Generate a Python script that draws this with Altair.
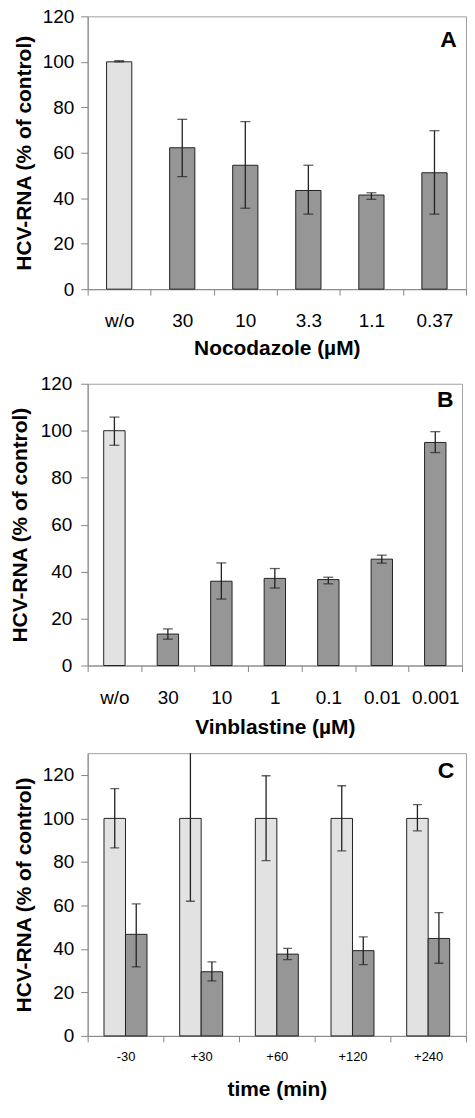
import altair as alt
import pandas as pd

FONT = "Liberation Sans"

# ---- Panel A: Nocodazole ----
a_cats = ["w/o", "30", "10", "3.3", "1.1", "0.37"]
a_mean = [100.0, 62.2, 54.5, 43.4, 41.4, 51.2]
a_lo = [100.0, 49.5, 35.6, 33.0, 39.5, 33.0]
a_hi = [100.5, 74.7, 73.7, 54.5, 42.4, 69.7]
a_group = ["control", "treated", "treated", "treated", "treated", "treated"]

# ---- Panel B: Vinblastine ----
b_cats = ["w/o", "30", "10", "1", "0.1", "0.01", "0.001"]
b_mean = [100.0, 13.4, 35.9, 37.1, 36.6, 45.3, 95.0]
b_lo = [93.8, 11.2, 28.3, 33.0, 34.8, 43.6, 90.7]
b_hi = [105.8, 15.6, 43.7, 41.3, 37.6, 47.0, 99.6]
b_group = ["control", "treated", "treated", "treated", "treated", "treated", "treated"]

# ---- Panel C: time course ----
c_times = ["-30", "+30", "+60", "+120", "+240"]
c_ctrl = [100.0, 100.0, 100.0, 100.0, 100.0]
c_ctrl_lo = [86.4, 61.9, 80.6, 85.1, 94.3]
c_ctrl_hi = [113.7, 138.0, 119.6, 115.0, 106.3]
c_trt = [46.7, 29.5, 37.6, 39.2, 44.8]
c_trt_lo = [31.7, 25.3, 35.1, 32.8, 33.4]
c_trt_hi = [60.7, 34.0, 40.2, 45.5, 56.7]

groups = ["control", "treated"]
group_colors = ["#e2e2e2", "#969696"]

y_ticks = [0, 20, 40, 60, 80, 100, 120]
y_title = "HCV-RNA (% of control)"

color_enc = alt.Color("group:N", scale=alt.Scale(domain=groups, range=group_colors), legend=None)


def y_axis(lab_pad, title_pad):
    return alt.Axis(values=y_ticks, grid=False, title=y_title, titleFont=FONT, titleFontSize=21,
                    titleFontWeight="bold", titleColor="#000", labelFont=FONT, labelFontSize=19,
                    labelColor="#000", labelPadding=lab_pad, titlePadding=title_pad, tickSize=7,
                    tickColor="#868686", domainColor="#868686")


def x_axis(title, lab_size, lab_pad, title_pad):
    return alt.Axis(title=title, labelAngle=0, tickBand="extent", titleFont=FONT, titleFontSize=21,
                    titleFontWeight="bold", titleColor="#000", labelFont=FONT, labelFontSize=lab_size,
                    labelColor="#000", labelPadding=lab_pad, titlePadding=title_pad, tickSize=6,
                    tickColor="#868686", domainColor="#868686")


def simple_panel(cats, mean, lo, hi, grp, xtitle, letter, letter_y, letter_dx,
                 width, height, ylp, ytp, xlp, xtp):
    df = pd.DataFrame({"cat": cats, "mean": mean, "lo": lo, "hi": hi, "group": grp})
    xs = alt.Scale(paddingInner=0, paddingOuter=0)
    ax = x_axis(xtitle, 19, xlp, xtp)
    ay = y_axis(ylp, ytp)
    ys = alt.Scale(domain=[0, 120], nice=False)
    X = alt.X("cat:N", sort=cats, scale=xs, axis=ax)
    base = alt.Chart(df)
    bars = base.mark_bar(width=alt.RelativeBandSize(0.4), stroke="#222", strokeWidth=1).encode(
        x=X, y=alt.Y("mean:Q", scale=ys, axis=ay), color=color_enc)
    rules = base.mark_rule(color="#222", strokeWidth=1.3).encode(
        x=X, y=alt.Y("lo:Q", scale=ys, axis=ay), y2="hi:Q")
    cap_hi = base.mark_tick(color="#222", size=10, thickness=1.3).encode(
        x=X, y=alt.Y("hi:Q", scale=ys, axis=ay))
    cap_lo = base.mark_tick(color="#222", size=10, thickness=1.3).encode(
        x=X, y=alt.Y("lo:Q", scale=ys, axis=ay))
    ldf = pd.DataFrame({"cat": [cats[-1]], "y": [letter_y], "t": [letter]})
    lab = alt.Chart(ldf).mark_text(dx=letter_dx, fontSize=23, fontWeight="bold", font=FONT,
                                   color="#000", baseline="middle").encode(
        x=X, y=alt.Y("y:Q", scale=ys, axis=ay), text="t:N")
    return alt.layer(bars, rules, cap_hi, cap_lo, lab).properties(width=width, height=height)


panel_a = simple_panel(a_cats, a_mean, a_lo, a_hi, a_group, "Nocodazole (µM)", "A", 109.4, 14,
                       380, 274, 7, 8, 17, 7)
panel_b = simple_panel(b_cats, b_mean, b_lo, b_hi, b_group, "Vinblastine (µM)", "B", 113.2, 10,
                       376, 283, 9, 10, 17, 9)

# Panel C (grouped)
rows = []
for i, t in enumerate(c_times):
    rows.append({"time": t, "group": "control", "mean": c_ctrl[i], "lo": c_ctrl_lo[i], "hi": c_ctrl_hi[i]})
    rows.append({"time": t, "group": "treated", "mean": c_trt[i], "lo": c_trt_lo[i], "hi": c_trt_hi[i]})
cdf = pd.DataFrame(rows)
cys = alt.Scale(domain=[0, 130], nice=False)
cay = y_axis(7, 8)
cax = x_axis("time (min)", 13, 9, 15)
CX = alt.X("time:N", sort=c_times, scale=alt.Scale(paddingInner=0, paddingOuter=0), axis=cax)
CXO = alt.XOffset("group:N", sort=groups, scale=alt.Scale(paddingInner=0, paddingOuter=0.76))
cbase = alt.Chart(cdf)
c_bars = cbase.mark_bar(stroke="#222", strokeWidth=1).encode(
    x=CX, xOffset=CXO, y=alt.Y("mean:Q", scale=cys, axis=cay), color=color_enc)
c_rules = cbase.mark_rule(color="#222", strokeWidth=1.3, clip=True).encode(
    x=CX, xOffset=CXO, y=alt.Y("lo:Q", scale=cys, axis=cay), y2="hi:Q")
c_cap_hi = cbase.mark_tick(color="#222", size=9, thickness=1.3, clip=True).encode(
    x=CX, xOffset=CXO, y=alt.Y("hi:Q", scale=cys, axis=cay))
c_cap_lo = cbase.mark_tick(color="#222", size=9, thickness=1.3, clip=True).encode(
    x=CX, xOffset=CXO, y=alt.Y("lo:Q", scale=cys, axis=cay))
c_ldf = pd.DataFrame({"time": [c_times[-1]], "y": [121.8], "t": ["C"]})
c_lab = alt.Chart(c_ldf).mark_text(dx=18, fontSize=23, fontWeight="bold", font=FONT,
                                   color="#000", baseline="middle").encode(
    x=CX, y=alt.Y("y:Q", scale=cys, axis=cay), text="t:N")
panel_c = alt.layer(c_bars, c_rules, c_cap_hi, c_cap_lo, c_lab).properties(width=380, height=284)

chart = alt.vconcat(panel_a, panel_b, panel_c, spacing=14).properties(
    padding={"left": 0, "top": -4, "right": 0, "bottom": 0}
).configure_view(stroke="#a0a0a0", strokeWidth=1)

chart.save("out.html", embed_options={"renderer": "svg", "actions": False})
